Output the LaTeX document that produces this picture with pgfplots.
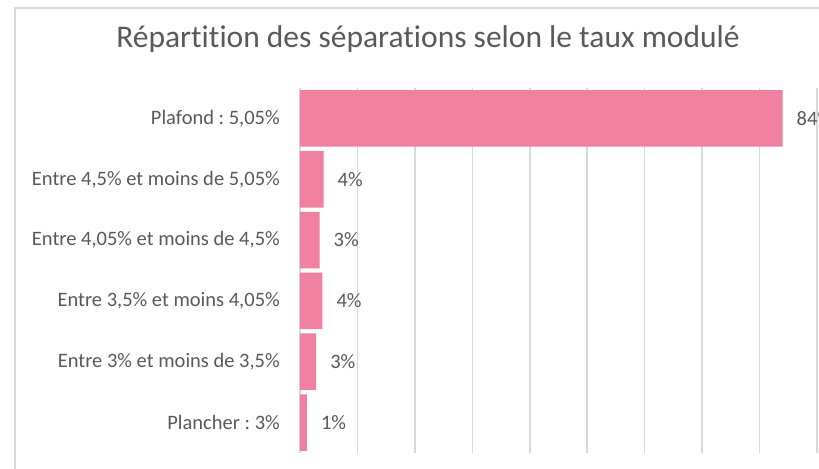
\documentclass[border=0pt]{standalone}
\usepackage{fontspec}
\setmainfont{Carlito}[Ligatures={NoCommon}]
\usepackage{pgfplots}
\pgfplotsset{compat=1.18}
\definecolor{barpink}{RGB}{240,128,160}
\definecolor{txtgray}{RGB}{89,89,89}
\definecolor{gridgray}{RGB}{217,217,217}

\begin{document}
\frenchspacing
\begin{tikzpicture}
% chart frame (partly cropped, like the reference)
\draw[gridgray, line width=1.5bp] (-285bp,-60bp) -- (-285bp,445bp) -- (600bp,445bp);
\begin{axis}[
  at={(0,0)}, anchor=south west,
  scale only axis, width=517bp, height=365bp,
  xbar, bar width=0.93,
  xmin=0, xmax=90, ymin=-0.5, ymax=5.5,
  xtick={0,10,...,90}, xticklabels={},
  xmajorgrids, grid style={gridgray, line width=1.5bp},
  major tick length=0pt,
  axis line style={draw=none},
  ytick={0,...,5},
  yticklabels={{Plancher : 3\%},{Entre 3\% et moins de 3,5\%},{Entre 3,5\% et moins 4,05\%},{Entre 4,05\% et moins de 4,5\%},{Entre 4,5\% et moins de 5,05\%},{Plafond : 5,05\%}},
  yticklabel style={inner sep=0pt, xshift=-20bp, text=txtgray, font=\fontsize{20.5bp}{24bp}\selectfont},
  title={Répartition des séparations selon le taux modulé},
  title style={at={(0.2476,1.0959)}, anchor=base, inner sep=0pt, text=txtgray, font=\fontsize{31.5bp}{38bp}\selectfont},
  point meta=explicit symbolic,
  nodes near coords,
  every node near coord/.append style={anchor=west, inner sep=0pt, xshift=14bp, text=txtgray, font=\fontsize{20.5bp}{24bp}\selectfont},
  clip=false,
]
\addplot[fill=barpink, draw=none] coordinates {
  (1.2,0) [1\%]
  (2.8,1) [3\%]
  (3.9,2) [4\%]
  (3.4,3) [3\%]
  (4.1,4) [4\%]
  (84,5) [84\%]
};
\end{axis}
\pgfresetboundingbox
\useasboundingbox (-300bp,-16bp) rectangle (519bp,453bp);
\end{tikzpicture}
\end{document}
